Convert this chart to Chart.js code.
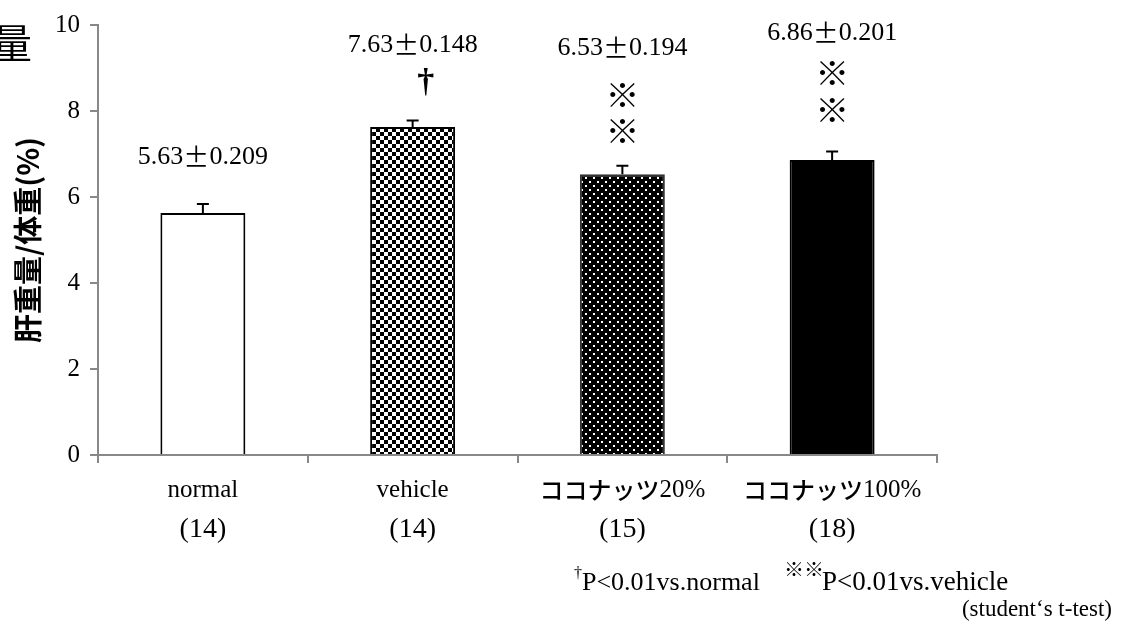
<!DOCTYPE html>
<html><head><meta charset="utf-8">
<script src="https://cdn.jsdelivr.net/npm/chart.js@4.4.0/dist/chart.umd.min.js"></script>
<style>html,body{margin:0;padding:0;background:#fff;}canvas{display:block;}</style>
</head><body>
<canvas id="c" width="1130" height="625"></canvas>
<script>
const categories = ['normal', 'vehicle', 'ココナッツ20%', 'ココナッツ100%'];
const counts = ['(14)', '(14)', '(15)', '(18)'];
const means = [5.63, 7.63, 6.53, 6.86];
const sems = [0.209, 0.148, 0.194, 0.201];
const marks = [[], ['†'], ['※', '※'], ['※', '※']];
const yTicks = [0, 2, 4, 6, 8, 10];
const yTitle = '肝重量/体重(%)';
const footnote1 = 'P<0.01vs.normal';
const footnote2 = 'P<0.01vs.vehicle';
const footnote3 = '(student\u02bbs t-test)';

const SERIF = "'Liberation Serif', 'Times New Roman', serif";
const CJK = "'Noto Sans CJK JP', sans-serif";

// layout constants (pixels)
const labelY = [157, 45, 48, 33];
const markY = [[], [83], [95, 131], [73, 110]];
const markDx = [0, 13, 0, 0];

function makeChecker() {
  const c = document.createElement('canvas'); c.width = 8; c.height = 8;
  const g = c.getContext('2d');
  g.fillStyle = '#fff'; g.fillRect(0, 0, 8, 8);
  g.fillStyle = '#000'; g.fillRect(0, 0, 4, 4); g.fillRect(4, 4, 4, 4);
  return g.createPattern(c, 'repeat');
}
function makeDots() {
  const c = document.createElement('canvas'); c.width = 8; c.height = 8;
  const g = c.getContext('2d');
  g.fillStyle = '#000'; g.fillRect(0, 0, 8, 8);
  g.fillStyle = '#fff'; g.fillRect(1, 1, 2, 2); g.fillRect(5, 5, 2, 2);
  return g.createPattern(c, 'repeat');
}
const ctx0 = document.getElementById('c').getContext('2d');
const fills = ['#ffffff', makeChecker(), makeDots(), '#000000'];

function drawMixed(ctx, parts, cx, y) {
  let total = 0;
  parts.forEach(p => { ctx.font = p[1]; total += ctx.measureText(p[0]).width; });
  let x = cx - total / 2;
  ctx.textAlign = 'left';
  parts.forEach(p => { ctx.font = p[1]; ctx.fillText(p[0], x, y); x += ctx.measureText(p[0]).width; });
}

const overlay = {
  id: 'overlay',
  afterDatasetsDraw(chart) {
    const ctx = chart.ctx;
    const xs = chart.scales.x, ys = chart.scales.y;
    ctx.save();
    ctx.strokeStyle = '#000'; ctx.lineWidth = 2;
    means.forEach((m, i) => {
      const x = xs.getPixelForValue(i);
      const y0 = ys.getPixelForValue(m), y1 = ys.getPixelForValue(m + sems[i]);
      ctx.beginPath(); ctx.moveTo(x, y0); ctx.lineTo(x, y1);
      ctx.moveTo(x - 6, y1); ctx.lineTo(x + 6, y1); ctx.stroke();
    });
    ctx.fillStyle = '#000';
    ctx.textBaseline = 'middle';
    means.forEach((m, i) => {
      const x = xs.getPixelForValue(i);
      drawMixed(ctx, [[m.toFixed(2), '26px ' + SERIF], ['±', '26px ' + CJK], [sems[i].toFixed(3), '26px ' + SERIF]], x, labelY[i]);
      marks[i].forEach((mk, j) => {
        ctx.textAlign = 'center';
        ctx.font = (mk === '†' ? 'bold 34px ' + SERIF : '34px ' + CJK);
        ctx.fillText(mk, x + markDx[i], markY[i][j]);
      });
    });
    categories.forEach((c, i) => {
      const x = xs.getPixelForValue(i);
      const m = c.match(/^([\u30A0-\u30FF]*)(.*)$/);
      const parts = [];
      if (m[1]) parts.push([m[1], '500 24px ' + CJK]);
      if (m[2]) parts.push([m[2], '25px ' + SERIF]);
      drawMixed(ctx, parts, x, 490);
      ctx.textAlign = 'center';
      ctx.font = '28px ' + SERIF;
      ctx.fillText(counts[i], x, 530);
    });
    ctx.save();
    ctx.translate(28, 240);
    ctx.rotate(-Math.PI / 2);
    ctx.textAlign = 'center';
    ctx.font = 'bold 29px ' + CJK;
    ctx.fillText(yTitle, 0, 0);
    ctx.restore();
    ctx.textAlign = 'right';
    ctx.font = '40px ' + CJK;
    ctx.fillText('量', 32, 43);
    ctx.textAlign = 'left';
    ctx.textBaseline = 'alphabetic';
    let x = 574;
    ctx.font = '16px ' + SERIF; ctx.fillText('†', x, 578); x += ctx.measureText('†').width;
    ctx.font = '26px ' + SERIF; ctx.fillText(footnote1, x, 590);
    x = 784;
    ctx.font = '20px ' + CJK; ctx.fillText('※※', x, 577); x += ctx.measureText('※※').width - 2;
    ctx.font = '27px ' + SERIF; ctx.fillText(footnote2, x, 590);
    ctx.textAlign = 'right';
    ctx.font = '23px ' + SERIF; ctx.fillText(footnote3, 1112, 616);
    ctx.restore();
  }
};

new Chart(ctx0, {
  type: 'bar',
  data: {
    labels: categories,
    datasets: [{
      data: means,
      backgroundColor: fills,
      borderColor: ['#000', '#000', '#333', '#000'],
      borderWidth: 2,
      barPercentage: 0.405,
      categoryPercentage: 1.0
    }]
  },
  options: {
    responsive: false,
    animation: false,
    devicePixelRatio: 1,
    layout: { padding: { top: 18, right: 193, bottom: 0, left: 0 } },
    plugins: { legend: { display: false }, tooltip: { enabled: false }, title: { display: false } },
    scales: {
      x: {
        grid: { drawOnChartArea: false, drawTicks: true, tickLength: 8, color: '#888', lineWidth: 2, offset: true },
        border: { color: '#888', width: 2 },
        ticks: { display: false },
        afterFit(s) { s.height = 170; }
      },
      y: {
        min: 0, max: 10,
        afterBuildTicks(s) { s.ticks = yTicks.map(v => ({ value: v })); },
        grid: { drawOnChartArea: false, drawTicks: true, tickLength: 8, color: '#888', lineWidth: 2 },
        border: { color: '#888', width: 2 },
        ticks: { color: '#000', font: { family: SERIF, size: 25 }, padding: 10 },
        afterFit(s) { s.width = 98; }
      }
    }
  },
  plugins: [overlay]
});
</script>
</body></html>
